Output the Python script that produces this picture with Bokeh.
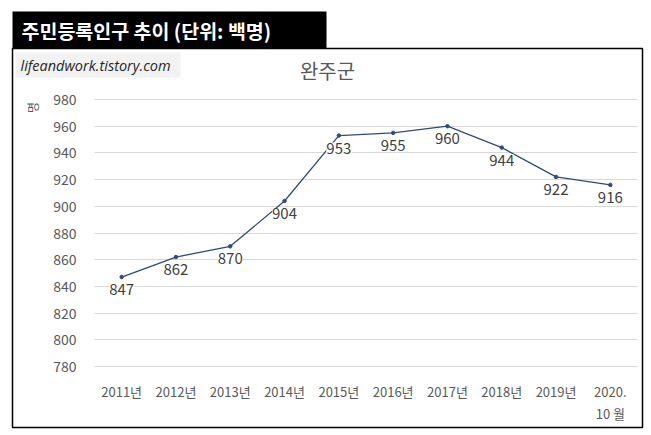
import math
from bokeh.plotting import figure
from bokeh.models import (Range1d, FixedTicker, BoxAnnotation, Label, LabelSet,
                          ColumnDataSource, LinearAxis)
from bokeh.embed import file_html
from bokeh.resources import INLINE
from bokeh.core.properties import value

# ---- data ----
categories = ["2011년", "2012년", "2013년", "2014년", "2015년", "2016년",
              "2017년", "2018년", "2019년", "2020.\n10 월"]
population = [847, 862, 870, 904, 953, 955, 960, 944, 922, 916]
y_ticks = [780, 800, 820, 840, 860, 880, 900, 920, 940, 960, 980]
chart_title = "완주군"
header_text = "주민등록인구 추이 (단위: 백명)"
site_text = "lifeandwork.tistory.com"
y_unit = "명"

KR = "Noto Sans CJK KR"
GRAY = "#595959"
LINE = "#2F4B7C"

# ---- layout constants (canvas pixels) ----
W, H = 648, 433
PLOT_L, PLOT_R, PLOT_T, PLOT_B = 94, 637, 99, 366   # data area inside canvas
n = len(categories)
xpx = (PLOT_R - PLOT_L) / n
ypx = (PLOT_B - PLOT_T) / (y_ticks[-1] - y_ticks[0])
x_start = -0.5 - PLOT_L / xpx
x_end = n - 0.5 + (W - PLOT_R) / xpx
y_end = y_ticks[-1] + PLOT_T / ypx
y_start = y_ticks[0] - (H - PLOT_B) / ypx

xs = list(range(n))
source = ColumnDataSource(dict(x=xs, val=population,
                               lab=[str(v) for v in population]))

p = figure(x_range=Range1d(x_start, x_end), y_range=Range1d(y_start, y_end),
           width=W, height=H, frame_width=W, frame_height=H,
           min_border=0, min_border_left=0, min_border_right=0,
           min_border_top=0, min_border_bottom=0,
           x_axis_location=None, y_axis_location=None,
           output_backend="svg", toolbar_location=None, tools="")
p.outline_line_color = None
p.background_fill_color = "white"
p.border_fill_color = "white"
p.grid.visible = False

# y axis at the left edge of the data area; its inward ticks act as gridlines
yax = LinearAxis(fixed_location=-0.5, ticker=FixedTicker(ticks=y_ticks),
                 level="underlay")
yax.axis_line_color = None
yax.minor_tick_line_color = None
yax.major_tick_in = PLOT_R - PLOT_L
yax.major_tick_out = 0
yax.major_tick_line_color = "#d9d9d9"
yax.major_tick_line_width = 1
yax.major_label_standoff = 18
yax.major_label_text_font_size = "14px"
yax.major_label_text_color = GRAY
yax.major_label_text_font = KR
p.add_layout(yax, "left")

xax = LinearAxis(fixed_location=y_ticks[0], ticker=FixedTicker(ticks=xs),
                 major_label_overrides={i: c for i, c in enumerate(categories)})
xax.axis_line_color = None
xax.minor_tick_line_color = None
xax.major_tick_line_color = None
xax.major_tick_in = 0
xax.major_tick_out = 0
xax.major_label_standoff = 15
xax.major_label_text_font_size = "13px"
xax.major_label_text_color = GRAY
xax.major_label_text_font = KR
p.add_layout(xax, "below")

p.line(x="x", y="val", source=source, line_color=LINE, line_width=1.3)
p.scatter(x="x", y="val", source=source, size=3.5, color=LINE)
p.add_layout(LabelSet(x="x", y="val", text="lab", source=source,
                      text_font=value(KR), text_font_size=value("15px"),
                      text_color=value("#404040"),
                      text_align="center", text_baseline="top", y_offset=-7,
                      background_fill_color=value("white"),
                      background_fill_alpha=1))

# ---- decorations (screen units relative to frame = canvas, y up from bottom) ----
def sb(**kw):
    return BoxAnnotation(left_units="screen", right_units="screen",
                         top_units="screen", bottom_units="screen", **kw)

def sl(**kw):
    return Label(x_units="screen", y_units="screen", **kw)

p.add_layout(sb(left=12, right=642, top=385, bottom=6,
                fill_alpha=0, line_color="black", line_alpha=1, line_width=1.5))
p.add_layout(sb(left=12, right=326, top=422, bottom=385,
                fill_color="black", fill_alpha=1, line_color=None))
p.add_layout(sl(x=21, y=403, text=header_text, text_color="white", text_font=KR,
                text_font_style="bold", text_font_size="19.5px",
                text_baseline="middle"))
p.add_layout(sb(left=15, right=180, top=381, bottom=356,
                fill_color="#f2f2f2", fill_alpha=1, line_color=None))
p.add_layout(sl(x=20, y=368, text=site_text, text_color="#262626",
                text_font="Open Sans", text_font_style="italic",
                text_font_size="14.5px", text_baseline="middle"))
p.add_layout(sl(x=327, y=363, text=chart_title, text_color=GRAY, text_font=KR,
                text_font_size="20px", text_align="center",
                text_baseline="middle"))
p.add_layout(sl(x=32, y=326, text=y_unit, text_color=GRAY, text_font=KR,
                text_font_size="12px", text_align="center",
                text_baseline="middle", angle=math.pi / 2))

open("out.html", "w").write(file_html(p, INLINE))
